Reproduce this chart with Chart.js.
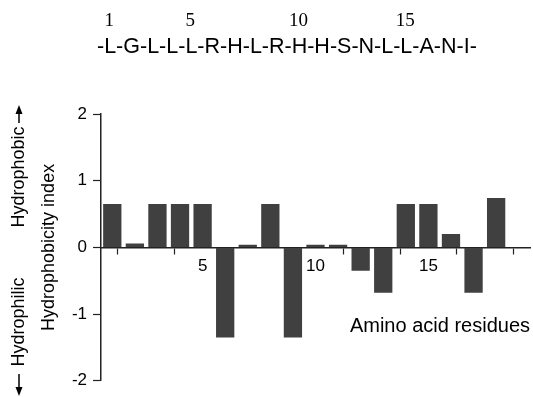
<!DOCTYPE html>
<html>
<head>
<meta charset="utf-8">
<script src="https://cdn.jsdelivr.net/npm/chart.js@4/dist/chart.umd.min.js"></script>
<style>
  body { margin: 0; background: #fff; }
  canvas { display: block; }
</style>
</head>
<body>
<canvas id="hydroChart" width="533" height="397"></canvas>
<script>
// residue positions and one-letter codes
const positions = [1, 2, 3, 4, 5, 6, 7, 8, 9, 10, 11, 12, 13, 14, 15, 16, 17, 18];
const residues = ['L', 'G', 'L', 'L', 'L', 'R', 'H', 'L', 'R', 'H', 'H', 'S', 'N', 'L', 'L', 'A', 'N', 'I'];
// hydrophobicity index
const hydrophobicity = [0.65, 0.06, 0.65, 0.65, 0.65, -1.35, 0.04, 0.65, -1.35, 0.04, 0.04, -0.35, -0.68, 0.65, 0.65, 0.20, -0.68, 0.74];

const xTickMarks = [2.5, 5, 7.5, 10, 12.5, 15, 17.5];
const xTickLabels = [5, 10, 15];
const seqNumbers = [1, 5, 10, 15];

const SANS = '"Liberation Sans", Arial, sans-serif';
const SERIF = '"Liberation Serif", "Times New Roman", serif';

// header sequence, side arrows and the x axis title
const annotations = {
    id: 'annotations',
    afterDraw(chart) {
        const ctx = chart.ctx;
        ctx.save();
        ctx.fillStyle = '#000';
        ctx.strokeStyle = '#000';

        // sequence line
        const seq = '-' + residues.join('-') + '-';
        const seqX = 97, seqY = 53;
        ctx.font = '21.5px ' + SANS;
        ctx.textAlign = 'left';
        ctx.textBaseline = 'alphabetic';
        ctx.fillText(seq, seqX, seqY);

        // numbers above residues
        const centers = [];
        residues.forEach((r, i) => {
            const prefix = '-' + residues.slice(0, i).map(a => a + '-').join('');
            const w0 = ctx.measureText(prefix).width;
            const w1 = ctx.measureText(r).width;
            centers.push(seqX + w0 + w1 / 2);
        });
        ctx.font = '19px ' + SERIF;
        ctx.textAlign = 'center';
        seqNumbers.forEach(n => {
            ctx.fillText(String(n), centers[n - 1] - 1, 26);
        });

        // rotated side labels with arrows
        ctx.font = '18px ' + SANS;
        const drawRot = (text, x, y) => {
            ctx.save();
            ctx.translate(x, y);
            ctx.rotate(-Math.PI / 2);
            ctx.textAlign = 'center';
            ctx.fillText(text, 0, 0);
            ctx.restore();
        };
        drawRot('Hydrophobic', 24, 177);
        drawRot('Hydrophilic', 24, 322);

        const arrow = (x, y0, y1) => {
            const dir = Math.sign(y1 - y0);
            ctx.lineWidth = 1.5;
            ctx.beginPath();
            ctx.moveTo(x, y0);
            ctx.lineTo(x, y1 - dir * 7);
            ctx.stroke();
            ctx.beginPath();
            ctx.moveTo(x, y1);
            ctx.lineTo(x - 3.5, y1 - dir * 9);
            ctx.lineTo(x + 3.5, y1 - dir * 9);
            ctx.closePath();
            ctx.fill();
        };
        arrow(19, 123, 105);
        arrow(19, 374, 396);

        // x axis title inside the plot
        ctx.font = '20px ' + SANS;
        ctx.textAlign = 'right';
        ctx.fillText('Amino acid residues', 530, 332);
        ctx.restore();
    }
};

const ctx = document.getElementById('hydroChart').getContext('2d');
new Chart(ctx, {
    type: 'bar',
    data: {
        datasets: [{
            data: positions.map((p, i) => ({ x: p, y: hydrophobicity[i] })),
            backgroundColor: '#404040',
            borderWidth: 0,
            barPercentage: 0.81,
            categoryPercentage: 1
        }]
    },
    options: {
        responsive: false,
        devicePixelRatio: 1,
        animation: false,
        plugins: {
            legend: { display: false },
            tooltip: { enabled: false }
        },
        layout: {
            padding: { top: 114, bottom: 14, left: 30, right: 3 }
        },
        scales: {
            x: {
                type: 'linear',
                position: { y: 0 },
                min: 0.5,
                max: 19.5,
                offset: false,
                z: 1,
                afterBuildTicks(scale) {
                    scale.ticks = xTickMarks.map(v => ({ value: v }));
                },
                ticks: {
                    autoSkip: false,
                    maxRotation: 0,
                    padding: 3,
                    color: '#000',
                    font: { family: SANS, size: 17 },
                    callback: v => xTickLabels.includes(v) ? String(v) : ''
                },
                grid: {
                    drawOnChartArea: false,
                    drawTicks: true,
                    tickLength: 6,
                    tickWidth: 1.2,
                    tickColor: '#222'
                },
                border: { display: true, color: '#222', width: 1.5 }
            },
            y: {
                min: -2,
                max: 2,
                afterFit(scale) {
                    scale.width = 71;
                },
                ticks: {
                    stepSize: 1,
                    padding: 6,
                    color: '#000',
                    font: { family: SANS, size: 17 }
                },
                grid: {
                    drawOnChartArea: false,
                    drawTicks: true,
                    tickLength: 8,
                    tickWidth: 1.2,
                    tickColor: '#222'
                },
                border: { display: true, color: '#222', width: 1.5 },
                title: {
                    display: true,
                    text: 'Hydrophobicity index',
                    color: '#000',
                    font: { family: SANS, size: 18 },
                    padding: { top: 8, bottom: 0 }
                }
            }
        }
    },
    plugins: [annotations]
});
</script>
</body>
</html>
